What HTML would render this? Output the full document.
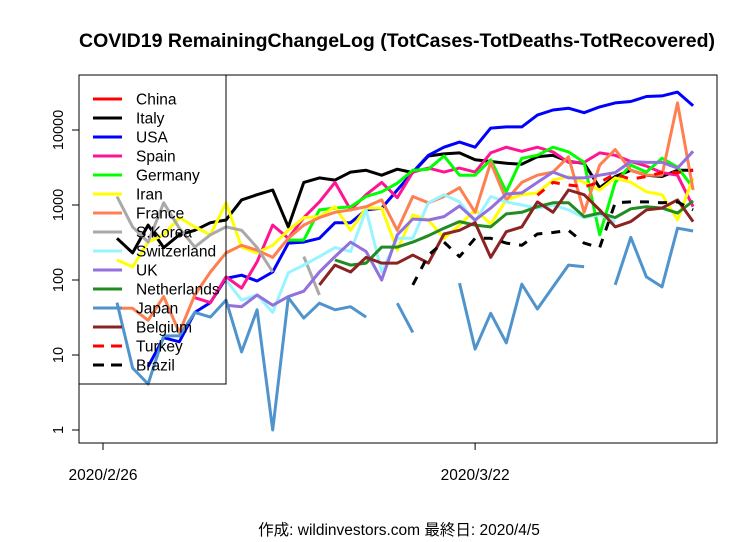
<!DOCTYPE html>
<html><head><meta charset="utf-8"><style>
html,body{margin:0;padding:0;background:#fff;}
svg{display:block;font-family:"Liberation Sans","Noto Sans CJK JP",sans-serif;}
</style></head><body>
<svg id="chart" width="756" height="542" viewBox="0 0 756 542" xmlns="http://www.w3.org/2000/svg">
<rect x="0" y="0" width="756" height="542" fill="#fff"/>
<text x="397" y="47" text-anchor="middle" font-size="19.5" font-weight="bold">COVID19 RemainingChangeLog (TotCases-TotDeaths-TotRecovered)</text>
<g id="series"></g>
<g id="axes"></g>
<g id="legend"></g>
<text x="399" y="535" text-anchor="middle" font-size="15.5">作成: wildinvestors.com 最終日: 2020/4/5</text>
</svg>
<script>
const n = null;
const xTickLabels = ["2020/2/26", "2020/3/22"];
const xTickIndex = [-0.9, 23];
const yTickValues = [1, 10, 100, 1000, 10000];
const seriesNames = ["China","Italy","USA","Spain","Germany","Iran","France","S.Korea","Switzerland","UK","Netherlands","Japan","Belgium","Turkey","Brazil"];
const china = new Array(38).fill(null);
const italy = [360,230,540,270,400,460,580,630,1170,1370,1585,510,2000,2300,2150,2750,2900,2500,3000,2700,4500,4800,4950,4000,3800,3600,3500,4400,4600,3800,3600,1700,2400,2900,2500,2400,2900,2900];
const usa = [n,n,7,17,15,37,50,105,116,97,128,310,320,360,580,580,860,910,1585,2750,4600,5900,6900,5900,10600,11000,11000,15800,18500,19500,17000,20300,23000,24000,28000,28500,32000,21000];
const spain = [n,n,n,n,n,58,50,110,78,175,540,360,680,1100,2000,860,1370,2000,1250,2750,3100,2750,3100,2750,4950,5900,5200,5900,5100,3700,3700,4950,4600,3800,3300,2700,2500,950];
const germany = [n,n,n,n,n,n,n,n,n,n,n,340,340,860,910,950,1300,1500,1950,2900,3000,4500,2500,2500,4000,1500,4200,4600,5900,5100,3700,400,2000,3400,2750,4200,3200,1700];
const iran = [185,150,320,400,680,510,400,1070,275,230,290,460,680,700,950,460,910,910,250,740,630,360,540,860,560,1170,1370,1450,2150,2400,2000,1585,2300,2000,1500,1370,630,2300];
const france = [42,42,29,60,20,63,128,230,290,250,200,360,540,680,800,860,950,1170,460,1300,1070,1300,1700,800,3700,1170,2000,2500,2750,4400,800,3400,5500,2900,2500,2500,23000,1585];
const skorea = [1300,510,320,1070,490,275,400,510,460,270,128,n,205,63,n,n,n,n,n,n,n,n,n,n,n,n,n,n,n,n,n,n,n,n,n,n,n,n];
const switzerland = [n,n,n,n,n,n,n,100,54,63,37,125,158,205,270,240,860,128,360,360,1070,1370,1100,600,1300,1100,1000,910,1000,860,680,740,600,n,n,n,n,n];
const uk = [n,n,n,n,n,n,n,46,44,63,46,60,71,128,205,320,240,100,400,650,630,700,970,630,910,1400,1450,2000,2750,2300,2300,2500,2700,3800,3700,3700,3100,5200];
const netherlands = [n,n,n,n,n,n,n,n,n,n,n,n,n,n,185,158,168,275,275,320,390,490,600,540,510,760,800,950,1070,1070,700,780,680,890,950,910,780,1130];
const japan = [50,6.7,4.1,18,18,37,32,54,11,40,1,58,31,49,40,44,32,n,49,20,n,n,91,12,36,14.5,88,41,81,158,150,n,86,370,110,81,490,450];
const belgium = [n,n,n,n,n,n,n,n,n,n,n,n,n,86,158,128,200,168,168,215,168,410,460,580,200,440,510,1100,800,1585,1370,860,510,600,860,910,1170,600];
const turkey = [n,n,n,n,n,n,n,n,n,n,n,n,n,n,n,n,n,n,n,n,n,n,n,n,n,n,n,1350,2000,1850,1750,2000,2600,2200,2400,2700,2700,2900];
const brazil = [n,n,n,n,n,n,n,n,n,n,n,n,n,n,n,n,n,n,n,86,215,320,205,360,360,310,290,410,430,460,310,270,1070,1100,1100,1070,1100,860];

const allSeries = [china,italy,usa,spain,germany,iran,france,skorea,switzerland,uk,netherlands,japan,belgium,turkey,brazil];
const colors = ["#FF0000","#000000","#0000FF","#FF1493","#00FF00","#FFFF00","#FF7F50","#A9A9A9","#98F5FF","#9370DB","#228B22","#4F94CD","#8B2323","#FF0000","#000000"];
const dashed = [false,false,false,false,false,false,false,false,false,false,false,false,false,true,true];

const NS = "http://www.w3.org/2000/svg";
const X0 = 117, DX = 15.57;
const PL = 79, PR = 717, PT = 75, PB = 443;
function xs(i){ return X0 + DX*i; }
function ys(v){ return 430 - 75*Math.log10(v); }
function mk(tag, attrs, parent){ const e = document.createElementNS(NS, tag); for (const k in attrs) e.setAttribute(k, attrs[k]); parent.appendChild(e); return e; }

const sg = document.getElementById('series');
allSeries.forEach((arr, s) => {
  let d = "", pen = false;
  arr.forEach((v, i) => {
    if (v == null || !(v > 0)) { pen = false; return; }
    d += (pen ? "L" : "M") + xs(i).toFixed(1) + " " + ys(v).toFixed(1) + " ";
    pen = true;
  });
  if (!d) return;
  const p = mk('path', {d: d, fill: "none", stroke: colors[s], "stroke-width": 3, "stroke-linejoin": "round"}, sg);
  if (dashed[s]) p.setAttribute('stroke-dasharray', '9 9');
  
  
});

const ag = document.getElementById('axes');
const frame = mk('rect', {x: PL, y: PT, width: PR-PL, height: PB-PT, fill: "none", stroke: "#000", "stroke-width": 1}, ag);


const yAxis = mk('line', {x1: PL, y1: ys(1), x2: PL, y2: ys(10000), stroke: "#000"}, ag);


yTickValues.forEach(v => {
  const y = ys(v);
  const t = mk('line', {x1: PL-7, y1: y, x2: PL, y2: y, stroke: "#000"}, ag);
  
  
  const lb = mk('text', {x: 0, y: 0, "font-size": 14.5, "text-anchor": "middle", transform: "translate(" + (PL-16) + "," + y + ") rotate(-90)"}, ag);
  lb.textContent = String(v);
  
  
});
const xAxis = mk('line', {x1: xs(xTickIndex[0]), y1: PB, x2: xs(xTickIndex[1]), y2: PB, stroke: "#000"}, ag);


xTickLabels.forEach((lab, k) => {
  const x = xs(xTickIndex[k]);
  const t = mk('line', {x1: x, y1: PB, x2: x, y2: PB+7, stroke: "#000"}, ag);
  
  
  const lb = mk('text', {x: x, y: PB+37, "font-size": 15.5, "text-anchor": "middle"}, ag);
  lb.textContent = lab;
  
  
});

const lg = document.getElementById('legend');
const box = mk('rect', {x: PL, y: PT, width: 147, height: 309, fill: "none", stroke: "#000", "stroke-width": 1}, lg);


seriesNames.forEach((nm, s) => {
  const y = 99 + s*19;
  const g = mk('g', {}, lg);
  
  
  const l = mk('line', {x1: 93, y1: y, x2: 122, y2: y, stroke: colors[s], "stroke-width": 3}, g);
  if (dashed[s]) l.setAttribute('stroke-dasharray', '11 7');
  const t = mk('text', {x: 136, y: y+5.5, "font-size": 15.5}, g);
  t.textContent = nm;
});
</script>
</body></html>
